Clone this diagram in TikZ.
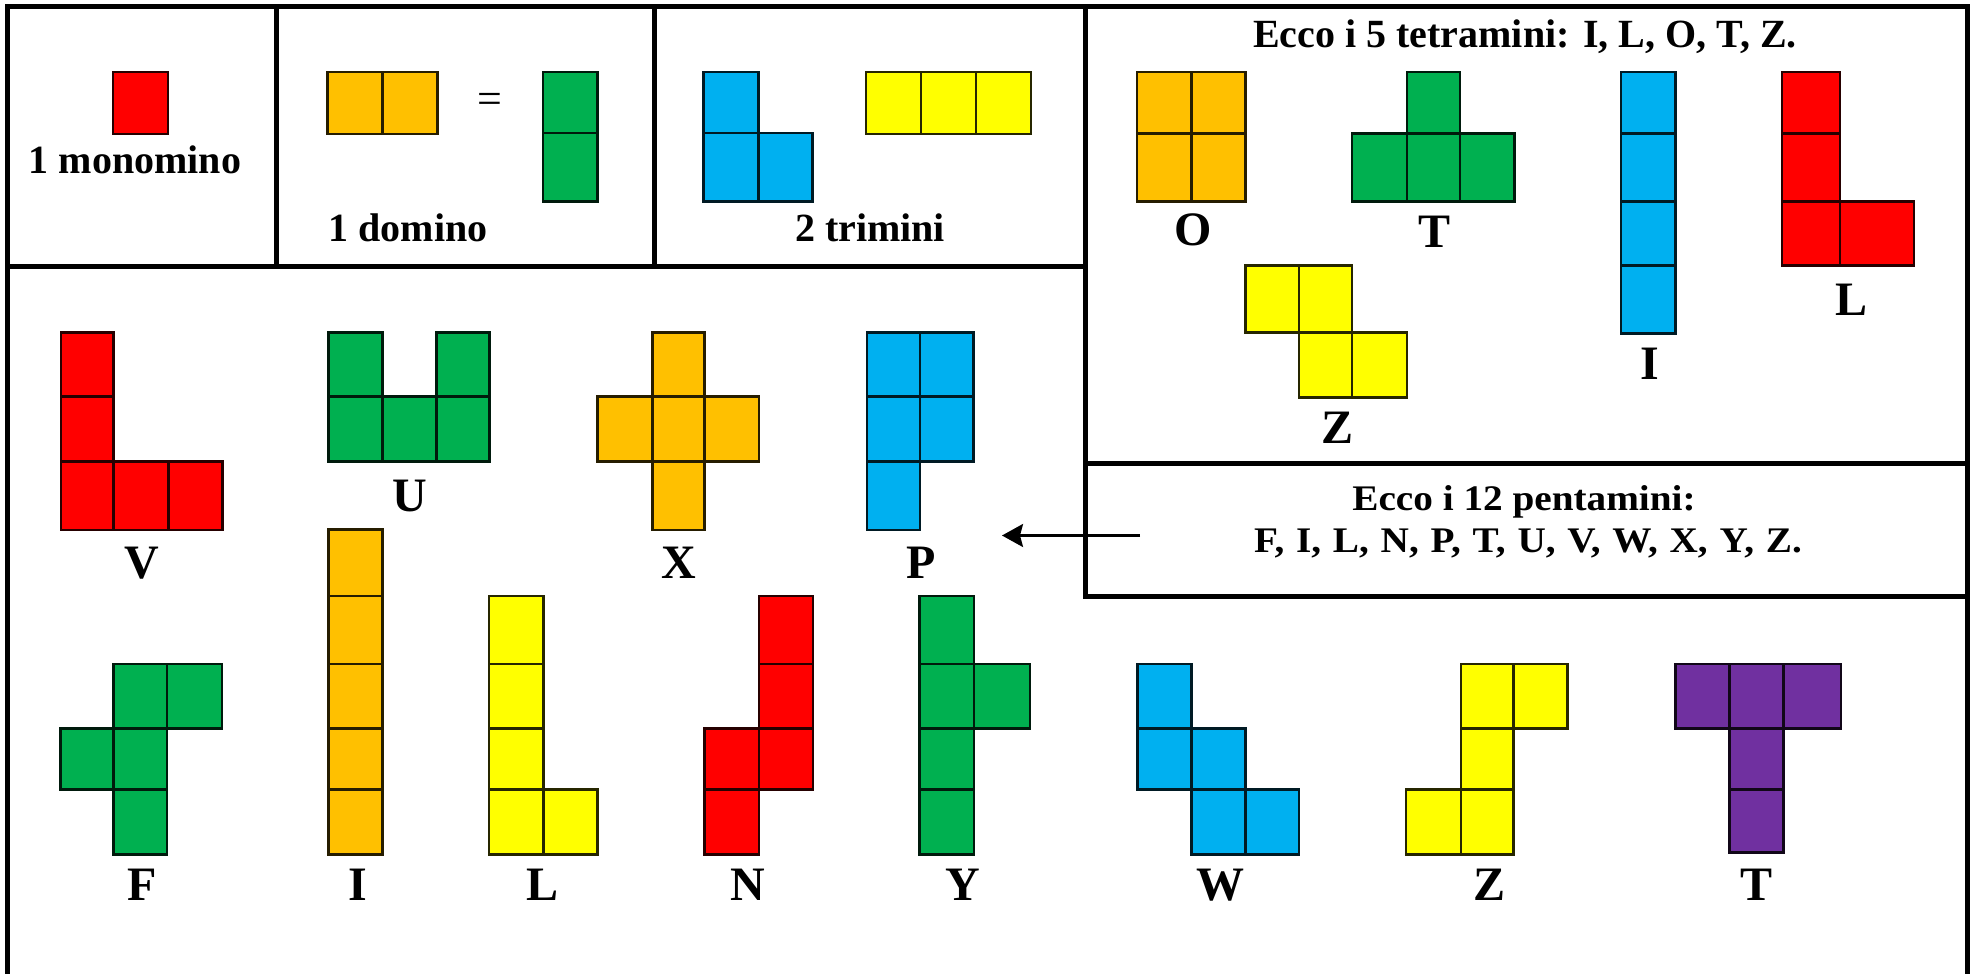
\documentclass[tikz,border=0pt]{standalone}
\usepackage{fontspec}
\setmainfont{Liberation Serif}
\newfontfamily\widefont[FakeStretch=1.09]{Liberation Serif}
\usetikzlibrary{arrows.meta}
\definecolor{pred}{HTML}{FF0000}
\definecolor{porange}{HTML}{FFC000}
\definecolor{pgreen}{HTML}{00B050}
\definecolor{pblue}{HTML}{00B0F0}
\definecolor{pyellow}{HTML}{FFFF00}
\definecolor{ppurple}{HTML}{7030A0}
\newcommand\tsq[5]{\filldraw[tile=#1] (#2,#3) rectangle (#4,#5);}
\tikzset{
  frame/.style={line width=2.5pt, line cap=rect},
  tile/.style={fill=#1, draw=#1!15!black, line width=1.4pt},
  toplbl/.style={inner sep=0, anchor=base, font=\bfseries\fontsize{20pt}{24pt}\selectfont},
  piecelbl/.style={inner sep=0, anchor=base, font=\bfseries\fontsize{24pt}{28pt}\selectfont},
  pentlbl/.style={inner sep=0, anchor=base, font=\widefont\bfseries\fontsize{18pt}{22pt}\selectfont},
  eqlbl/.style={inner sep=0, font=\fontsize{22pt}{26pt}\selectfont},
  arrowline/.style={line width=1.3pt, -{Stealth[length=10.5pt,width=11.5pt,inset=1.5pt]}}
}
\begin{document}
\begin{tikzpicture}[x=0.5pt,y=-0.5pt]
\useasboundingbox (0,0) rectangle (1976,974);
\clip (0,0) rectangle (1976,974);
\fill[white] (0,0) rectangle (1976,974);
% frame
\draw[frame] (7,1000) -- (7,7) -- (1967,7) -- (1967,1000);
\draw[frame] (7,266.7) -- (1085,266.7);
\draw[frame] (276.5,7) -- (276.5,266.7);
\draw[frame] (654,7) -- (654,266.7);
\draw[frame] (1085,7) -- (1085,596);
\draw[frame] (1085,463) -- (1967,463);
\draw[frame] (1085,596) -- (1967,596);
% monomino
\tsq{pred}{113}{72}{168}{134}
% dominoes
\tsq{porange}{327.5}{72}{382.5}{134}
\tsq{porange}{382.5}{72}{437.7}{134}
\tsq{pgreen}{543}{72}{597.6}{133}
\tsq{pgreen}{543}{133}{597.6}{201.7}
% triominoes
\tsq{pblue}{703.3}{72}{758.3}{133}
\tsq{pblue}{703.3}{133}{758.3}{201.7}
\tsq{pblue}{758.3}{133}{812.7}{201.7}
\tsq{pyellow}{866}{72}{921}{134}
\tsq{pyellow}{921}{72}{976}{134}
\tsq{pyellow}{976}{72}{1031}{134}
% tetromino O
\tsq{porange}{1137}{72}{1191.4}{133.3}
\tsq{porange}{1191.4}{72}{1245.7}{133.3}
\tsq{porange}{1137}{133.3}{1191.4}{201.7}
\tsq{porange}{1191.4}{133.3}{1245.7}{201.7}
% tetromino T
\tsq{pgreen}{1407}{72}{1460}{133.3}
\tsq{pgreen}{1352}{133.3}{1407}{201.7}
\tsq{pgreen}{1407}{133.3}{1460}{201.7}
\tsq{pgreen}{1460}{133.3}{1514.3}{201.7}
% tetromino I
\tsq{pblue}{1621}{72}{1675.4}{133.3}
\tsq{pblue}{1621}{133.3}{1675.4}{201.7}
\tsq{pblue}{1621}{201.7}{1675.4}{265.7}
\tsq{pblue}{1621}{265.7}{1675.4}{333.3}
% tetromino L
\tsq{pred}{1782}{72}{1840}{133.3}
\tsq{pred}{1782}{133.3}{1840}{201.7}
\tsq{pred}{1782}{201.7}{1840}{265.7}
\tsq{pred}{1840}{201.7}{1914}{265.7}
% tetromino Z
\tsq{pyellow}{1245.7}{265.5}{1299}{332.7}
\tsq{pyellow}{1299}{265.5}{1352}{332.7}
\tsq{pyellow}{1299}{332.7}{1352}{397.3}
\tsq{pyellow}{1352}{332.7}{1407}{397.3}
% pentomino V
\tsq{pred}{61}{332.7}{113.6}{396.7}
\tsq{pred}{61}{396.7}{113.6}{461.7}
\tsq{pred}{61}{461.7}{113.6}{530}
\tsq{pred}{113.6}{461.7}{168.4}{530}
\tsq{pred}{168.4}{461.7}{222.4}{530}
% pentomino U
\tsq{pgreen}{328.3}{332.7}{382.3}{396.7}
\tsq{pgreen}{436.3}{332.7}{489.7}{396.7}
\tsq{pgreen}{328.3}{396.7}{382.3}{461.7}
\tsq{pgreen}{382.3}{396.7}{436.3}{461.7}
\tsq{pgreen}{436.3}{396.7}{489.7}{461.7}
% pentomino X
\tsq{porange}{652.4}{332.7}{704.3}{396.7}
\tsq{porange}{597.7}{396.7}{652.4}{461.7}
\tsq{porange}{652.4}{396.7}{704.3}{461.7}
\tsq{porange}{704.3}{396.7}{759}{461.7}
\tsq{porange}{652.4}{461.7}{704.3}{530}
% pentomino P
\tsq{pblue}{867}{332.7}{920}{396.7}
\tsq{pblue}{920}{332.7}{973.7}{396.7}
\tsq{pblue}{867}{396.7}{920}{461.7}
\tsq{pblue}{920}{396.7}{973.7}{461.7}
\tsq{pblue}{867}{461.7}{920}{530}
% pentomino F
\tsq{pgreen}{113.5}{664}{167}{728.3}
\tsq{pgreen}{167}{664}{222}{728.3}
\tsq{pgreen}{60.6}{728.3}{113.5}{789.3}
\tsq{pgreen}{113.5}{728.3}{167}{789.3}
\tsq{pgreen}{113.5}{789.3}{167}{854.3}
% pentomino I
\tsq{porange}{328.4}{529.3}{382.7}{596}
\tsq{porange}{328.4}{596}{382.7}{664}
\tsq{porange}{328.4}{664}{382.7}{728.3}
\tsq{porange}{328.4}{728.3}{382.7}{789.3}
\tsq{porange}{328.4}{789.3}{382.7}{854.3}
% pentomino L
\tsq{pyellow}{489}{596}{543.4}{664}
\tsq{pyellow}{489}{664}{543.4}{728.3}
\tsq{pyellow}{489}{728.3}{543.4}{789.3}
\tsq{pyellow}{489}{789.3}{543.4}{854.3}
\tsq{pyellow}{543.4}{789.3}{597.6}{854.3}
% pentomino N
\tsq{pred}{759}{596}{813}{664}
\tsq{pred}{759}{664}{813}{728.3}
\tsq{pred}{759}{728.3}{813}{789.3}
\tsq{pred}{704.7}{728.3}{759}{789.3}
\tsq{pred}{704.7}{789.3}{759}{854.3}
% pentomino Y
\tsq{pgreen}{919.6}{596}{974}{664}
\tsq{pgreen}{919.6}{664}{974}{728.3}
\tsq{pgreen}{919.6}{728.3}{974}{789.3}
\tsq{pgreen}{919.6}{789.3}{974}{854.3}
\tsq{pgreen}{974}{664}{1030}{728.3}
% pentomino W
\tsq{pblue}{1137.6}{664}{1191.6}{728.3}
\tsq{pblue}{1137.6}{728.3}{1191.6}{789.3}
\tsq{pblue}{1191.6}{728.3}{1245.6}{789.3}
\tsq{pblue}{1191.6}{789.3}{1245.6}{854.3}
\tsq{pblue}{1245.6}{789.3}{1299}{854.3}
% pentomino Z
\tsq{pyellow}{1461}{664}{1513.7}{728.3}
\tsq{pyellow}{1513.7}{664}{1567.7}{728.3}
\tsq{pyellow}{1461}{728.3}{1513.7}{789.3}
\tsq{pyellow}{1406}{789.3}{1461}{854.3}
\tsq{pyellow}{1461}{789.3}{1513.7}{854.3}
% pentomino T
\tsq{ppurple}{1675.7}{664}{1729.7}{728.3}
\tsq{ppurple}{1729.7}{664}{1783.7}{728.3}
\tsq{ppurple}{1783.7}{664}{1840.9}{728.3}
\tsq{ppurple}{1729.7}{728.3}{1783.7}{789.3}
\tsq{ppurple}{1729.7}{789.3}{1783.7}{852.7}
% top row labels
\node[toplbl] (mono) at (135,173) {1 monomino};
\node[toplbl] (dom) at (408,241) {1 domino};
\node[eqlbl] (eq) at (490,103) {=};
\node[toplbl] (tri) at (870,241) {2 trimini};
% tetromino labels
\node[toplbl] (tetra) at (1525,48) {Ecco i 5 tetramini: I, L, O, T, Z.};
\node[piecelbl] (tO) at (1193,245) {O};
\node[piecelbl] (tT) at (1434,247) {T};
\node[piecelbl] (tI) at (1650,379) {I};
\node[piecelbl] (tL) at (1851,315) {L};
\node[piecelbl] (tZ) at (1337,443) {Z};
% pentomino labels
\node[piecelbl] (pV) at (142,578) {V};
\node[piecelbl] (pU) at (410,511.7) {U};
\node[piecelbl] (pX) at (679,578) {X};
\node[piecelbl] (pP) at (921,578) {P};
\node[piecelbl] (pF) at (142,900) {F};
\node[piecelbl] (pI) at (358,900) {I};
\node[piecelbl] (pL) at (543,900) {L};
\node[piecelbl] (pN) at (748,900) {N};
\node[piecelbl] (pY) at (963,900) {Y};
\node[piecelbl] (pW) at (1220,900) {W};
\node[piecelbl] (pZ) at (1489.5,900) {Z};
\node[piecelbl] (pT) at (1756,900) {T};
% pentamini text
\node[pentlbl] (pent1) at (1524,510) {Ecco i 12 pentamini:};
\node[pentlbl] (pent2) at (1528,552) {\spaceskip=5.9pt F, I, L, N, P, T, U, V, W, X, Y, Z.};
% arrow
\coordinate (arrtail) at (1140,535.5);
\coordinate (arrtip) at (1002,535.5);
\draw[arrowline] (arrtail) -- (arrtip);
\end{tikzpicture}
\end{document}
